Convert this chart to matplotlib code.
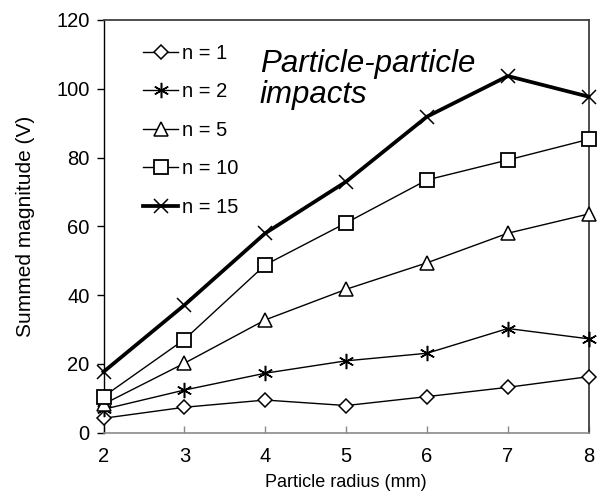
import matplotlib
matplotlib.use("Agg")
import matplotlib.pyplot as plt

plt.rcParams['font.family'] = ['Liberation Sans', 'DejaVu Sans']

radius = [2, 3, 4, 5, 6, 7, 8]
n1 = [4.2, 7.4, 9.5, 7.9, 10.5, 13.2, 16.3]
n2 = [6.8, 12.4, 17.3, 20.9, 23.1, 30.3, 27.3]
n5 = [8.3, 20.2, 32.8, 41.7, 49.4, 58.0, 63.6]
n10 = [10.5, 27.1, 48.8, 61.0, 73.5, 79.3, 85.3]
n15 = [17.7, 37.1, 58.0, 73.0, 91.9, 103.7, 97.7]

labels = ["n = 1", "n = 2", "n = 5", "n = 10", "n = 15"]
xticks = [2, 3, 4, 5, 6, 7, 8]
yticks = [0, 20, 40, 60, 80, 100, 120]

fig = plt.figure(figsize=(5.97, 5.01), dpi=100)
ax = fig.add_axes([0.1734, 0.1363, 0.8127, 0.8238])

common = dict(color='black', clip_on=False, markeredgecolor='black')

h1, = ax.plot(radius, n1, lw=1.0, marker='D', markersize=7.5,
              markerfacecolor='white', markeredgewidth=1.1, zorder=3, **common)
h2, = ax.plot(radius, n2, lw=1.0, marker=(6, 2, 0), markersize=11,
              markeredgewidth=1.1, zorder=3, **common)
h5, = ax.plot(radius, n5, lw=1.0, marker='^', markersize=10,
              markerfacecolor='white', markeredgewidth=1.1, zorder=3, **common)
h10, = ax.plot(radius, n10, lw=1.0, marker='s', markersize=9.5,
               markerfacecolor='white', markeredgewidth=1.3, zorder=3, **common)
h15, = ax.plot(radius, n15, lw=2.7, marker='x', markersize=10,
               markeredgewidth=1.1, zorder=4, **common)
handles = [h1, h2, h5, h10, h15]

ax.set_xlim(2, 8)
ax.set_ylim(0, 120)
ax.set_xticks(xticks)
ax.set_yticks(yticks)
ax.tick_params(axis='y', direction='out', length=5, width=1, color='black',
               labelsize=14.5, pad=5)
ax.tick_params(axis='x', direction='in', length=5, width=1, color='#888888',
               labelsize=14.5, pad=10)

ax.spines['left'].set_color('black')
ax.spines['left'].set_linewidth(1.0)
ax.spines['bottom'].set_color('#8a8a8a')
ax.spines['bottom'].set_linewidth(1.2)
for side in ('top', 'right'):
    ax.spines[side].set_color('#404040')
    ax.spines[side].set_linewidth(1.3)

ax.set_xlabel("Particle radius (mm)", fontsize=13, labelpad=6)
ax.set_ylabel("Summed magnitude (V)", fontsize=15, labelpad=15)

ax.legend(handles, labels, loc='upper left', frameon=False,
          fontsize=14.5, handlelength=1.75, handletextpad=0.2,
          labelspacing=0.97, bbox_to_anchor=(0.065, 0.962),
          borderaxespad=0)

ax.text(0.3225, 0.874, "Particle-particle", transform=ax.transAxes,
        fontsize=22.5, fontstyle='italic', va='baseline', ha='left')
ax.text(0.3225, 0.799, "impacts", transform=ax.transAxes,
        fontsize=22.5, fontstyle='italic', va='baseline', ha='left')

fig.savefig("out.png", dpi=100)
